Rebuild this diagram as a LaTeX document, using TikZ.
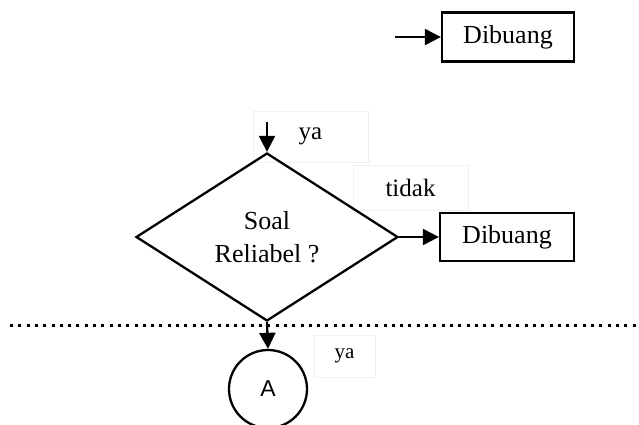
\documentclass[tikz,border=0pt]{standalone}
\usepackage{fontspec}
\setmainfont{Liberation Serif}
\newfontfamily\sansA{Liberation Sans}
\usetikzlibrary{arrows.meta,shapes.geometric}
\begin{document}
\begin{tikzpicture}[x=1pt,y=-1pt,
  lw/.style={line width=2.3pt},
  arr/.style={lw,-{Triangle[length=16pt,width=16pt]}},
  boxnode/.style={draw,lw,minimum width=132pt,minimum height=49pt,inner sep=0pt,font=\fontsize{26}{30}\selectfont},
  lbl/.style={draw=black!6,line width=0.6pt,inner sep=0pt,font=\fontsize{25}{30}\selectfont},
]
\useasboundingbox (0,0) rectangle (639,425);
% top box
\node[boxnode] (d1) at (508,37) {Dibuang};
\coordinate (s1) at (395,37);
\draw[arr] (s1) -- (d1.west);
% label boxes
\node[lbl,minimum width=115pt,minimum height=51pt] (ya1) at (310.5,136.5) {ya};
\node[lbl,minimum width=115pt,minimum height=45pt] (tdk) at (410.5,187.5) {tidak};
\node[lbl,minimum width=61pt,minimum height=42pt,font=\fontsize{21}{24}\selectfont] (ya2) at (344.5,356) {ya};
% diamond
\node[diamond,draw,lw,minimum width=262pt,minimum height=168pt,inner sep=0pt,align=center,
  font=\fontsize{26}{33}\selectfont] (q) at (267,237) {Soal\\Reliabel ?};
\coordinate (s2) at (267,122);
\draw[arr] (s2) -- (q.north);
% right box
\node[boxnode,minimum width=134pt,minimum height=48pt] (d2) at (507,237) {Dibuang};
\draw[arr] (q.east) -- (d2.west);
% dotted line
\coordinate (l1) at (10,325);
\coordinate (l2) at (639,325);
\draw[line width=3pt,dash pattern=on 3pt off 5.3pt] (l1) -- (l2);
% connector A
\node[circle,draw,lw,minimum size=78pt,inner sep=0pt,font=\sansA\fontsize{23}{26}\selectfont] (A) at (268,389) {A};
\draw[arr] (q.south) -- (A.north);
\end{tikzpicture}
\end{document}
